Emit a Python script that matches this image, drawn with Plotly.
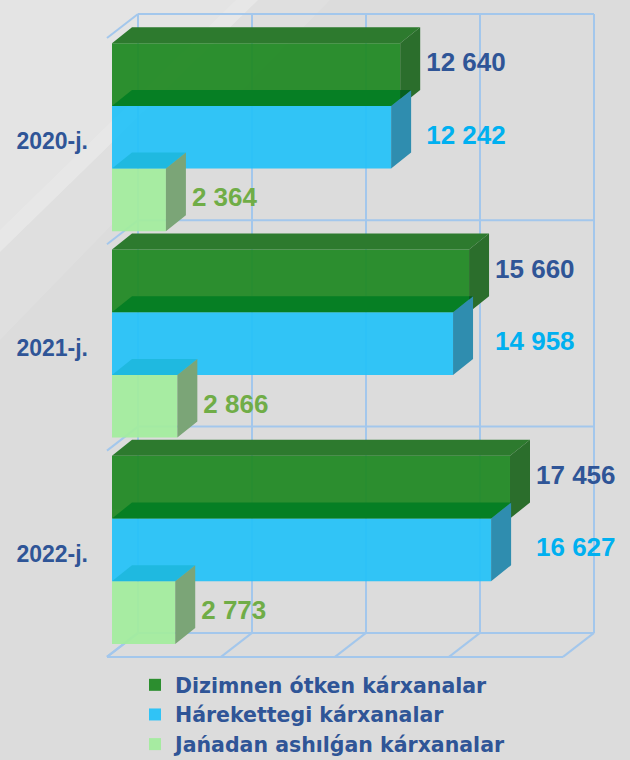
import plotly.graph_objects as go

# ---------------- data ----------------
years = ["2020-j.", "2021-j.", "2022-j."]
series_names = ["Dizimnen ótken kárxanalar", "Hárekettegi kárxanalar", "Jańadan ashılǵan kárxanalar"]
dizimnen = [12640, 15660, 17456]
harekettegi = [12242, 14958, 16627]
janadan = [2364, 2866, 2773]
x_ticks = [0, 5000, 10000, 15000, 20000]

series = [dizimnen, harekettegi, janadan]

# ---------------- styles ----------------
front_colors = ["#1f8922", "#24c2f8", "#a2ed9d"]
top_colors = ["#2d7a2e", "#067f24", "#1fb9e0"]
side_colors = ["#2b6e2c", "#2f8daf", "#7ba577"]
overlap_color = "#065f20"
label_colors = ["#2f5597", "#00b0f0", "#70ad47"]
grid_color = "#a3c7ec"
cat_color = "#2f5597"

# ---------------- geometry (pixel scale of axes) ----------------
W, H = 630, 760
ML = 95
PX_X = 0.0228      # px per value unit
PX_Y = 206.3       # px per category
X0_PX = 107        # px of value 0 on the front plane
Y0_PX = 141.15     # px of first category centre on the front plane
x_min = -(X0_PX - ML) / PX_X
x_max = x_min + (W - ML) / PX_X
y_top = -Y0_PX / PX_Y
y_bot = (H - Y0_PX) / PX_Y

WDX, WDY = 31 / PX_X, 24 / PX_Y     # wall depth
BX0, BY0 = 5 / PX_X, 3.9 / PX_Y     # bar front plane offset
BDX, BDY = 20 / PX_X, 16 / PX_Y     # bar depth
BW = 62.7 / PX_Y                    # bar thickness
GAP = 6 / PX_X

ncat = len(years)
bounds = [i - 0.5 for i in range(ncat + 1)]

fig = go.Figure()

# ---------------- gridlines (3D box) as shapes below traces ----------------
shapes = []
def seg(x0, y0, x1, y1):
    shapes.append(dict(type="line", xref="x", yref="y", x0=x0, y0=y0, x1=x1, y1=y1,
                       line=dict(color=grid_color, width=2), layer="below"))

xmax_t = x_ticks[-1]
for t in x_ticks:
    seg(t + WDX, bounds[0] - WDY, t + WDX, bounds[-1] - WDY)   # back wall verticals
    seg(t, bounds[-1], t + WDX, bounds[-1] - WDY)              # floor diagonals
for b in bounds:
    seg(WDX, b - WDY, xmax_t + WDX, b - WDY)                   # back wall horizontals
    seg(0, b, WDX, b - WDY)                                    # left wall diagonals
seg(0, bounds[-1], xmax_t, bounds[-1])                          # floor front edge

# background shading (light top-left area)
def ppx(px):
    return (px - ML) / (W - ML)
def ppy(py):
    return 1 - py / H
bg_shapes = [
    dict(type="path", xref="paper", yref="paper",
         path=f"M {ppx(0)},{ppy(0)} L {ppx(330)},{ppy(0)} L {ppx(0)},{ppy(340)} Z",
         fillcolor="rgba(255,255,255,0.10)", line=dict(width=0), layer="below"),
    dict(type="path", xref="paper", yref="paper",
         path=f"M {ppx(0)},{ppy(0)} L {ppx(258)},{ppy(0)} L {ppx(0)},{ppy(252)} Z",
         fillcolor="rgba(255,255,255,0.16)", line=dict(width=0), layer="below"),
    dict(type="path", xref="paper", yref="paper",
         path=f"M {ppx(236)},{ppy(0)} L {ppx(258)},{ppy(0)} L {ppx(0)},{ppy(252)} L {ppx(0)},{ppy(230)} Z",
         fillcolor="rgba(255,255,255,0.14)", line=dict(width=0), layer="below"),
]

# ---------------- bars: front faces ----------------
ycent = []
for k, vals in enumerate(series):
    yc = [i - BY0 + (k - 1) * BW for i in range(ncat)]
    ycent.append(yc)
    fig.add_trace(go.Bar(
        orientation="h", x=vals, base=[BX0] * ncat, y=yc, width=BW,
        marker=dict(color=front_colors[k], line=dict(width=0)),
        name=series_names[k], hoverinfo="skip", opacity=0.93,
    ))

def poly_trace(polys, color):
    xs, ys = [], []
    for p in polys:
        for (a, b) in p:
            xs.append(a); ys.append(b)
        xs.append(p[0][0]); ys.append(p[0][1])
        xs.append(None); ys.append(None)
    return go.Scatter(x=xs, y=ys, mode="lines", fill="toself", fillcolor=color,
                      line=dict(width=0), hoverinfo="skip", showlegend=False)

# top faces
for k, vals in enumerate(series):
    polys = []
    for i, v in enumerate(vals):
        yt = ycent[k][i] - BW / 2
        x1 = BX0 + v
        polys.append([(BX0, yt), (x1, yt), (x1 + BDX, yt - BDY), (BX0 + BDX, yt - BDY)])
    fig.add_trace(poly_trace(polys, top_colors[k]))

# side faces
for k, vals in enumerate(series):
    polys = []
    for i, v in enumerate(vals):
        yt = ycent[k][i] - BW / 2
        yb = ycent[k][i] + BW / 2
        x1 = BX0 + v
        polys.append([(x1, yt), (x1 + BDX, yt - BDY), (x1 + BDX, yb - BDY), (x1, yb)])
    fig.add_trace(poly_trace(polys, side_colors[k]))

# overlap of 2nd series top face with 1st series side face
polys = []
for i in range(ncat):
    xg = BX0 + series[0][i]
    xb = BX0 + series[1][i]
    yb = ycent[0][i] + BW / 2
    if xb < xg and xb + BDX > xg:
        t0 = (xg - xb) / BDX
        polys.append([(xg, yb - t0 * BDY), (xg, yb - BDY), (xb + BDX, yb - BDY)])
if polys:
    fig.add_trace(poly_trace(polys, overlap_color))

# ---------------- value labels ----------------
def fmt(v):
    return f"{v:,}".replace(",", " ")

for k, vals in enumerate(series):
    if k == 1:
        anchor = [max(a, b) for a, b in zip(series[0], vals)]
    else:
        anchor = vals
    lx = [BX0 + a + BDX + GAP for a in anchor]
    ly = [ycent[k][i] - (0.6 * BDY if k == 0 else 0) for i in range(ncat)]
    fig.add_trace(go.Scatter(
        x=lx, y=ly, mode="text", text=[fmt(v) for v in vals],
        textposition="middle right",
        textfont=dict(family="Liberation Sans, Arial", size=26, color=label_colors[k], weight="bold"),
        hoverinfo="skip", showlegend=False,
    ))

fig.update_layout(
    width=W, height=H,
    margin=dict(l=ML, r=0, t=0, b=0, autoexpand=False),
    paper_bgcolor="#dcdcdc", plot_bgcolor="rgba(0,0,0,0)",
    barmode="overlay",
    shapes=bg_shapes + shapes,
    showlegend=True,
    legend=dict(
        x=ppx(135), y=ppy(665), xanchor="left", yanchor="top",
        bgcolor="rgba(0,0,0,0)", borderwidth=0,
        font=dict(family="DejaVu Sans", size=20.5, color=cat_color, weight="bold"),
        traceorder="normal",
    ),
    xaxis=dict(range=[x_min, x_max], visible=False, fixedrange=True),
    yaxis=dict(range=[y_bot, y_top], tickvals=list(range(ncat)), ticktext=years,
               showgrid=False, zeroline=False, showline=False, ticks="",
               ticklabelstandoff=6,
               tickfont=dict(family="Liberation Sans, Arial", size=23, color=cat_color, weight="bold"),
               fixedrange=True),
)

fig.write_html("out.html", config={"displayModeBar": False},
               post_script="document.body.style.margin='0';document.body.style.background='#dcdcdc';")
